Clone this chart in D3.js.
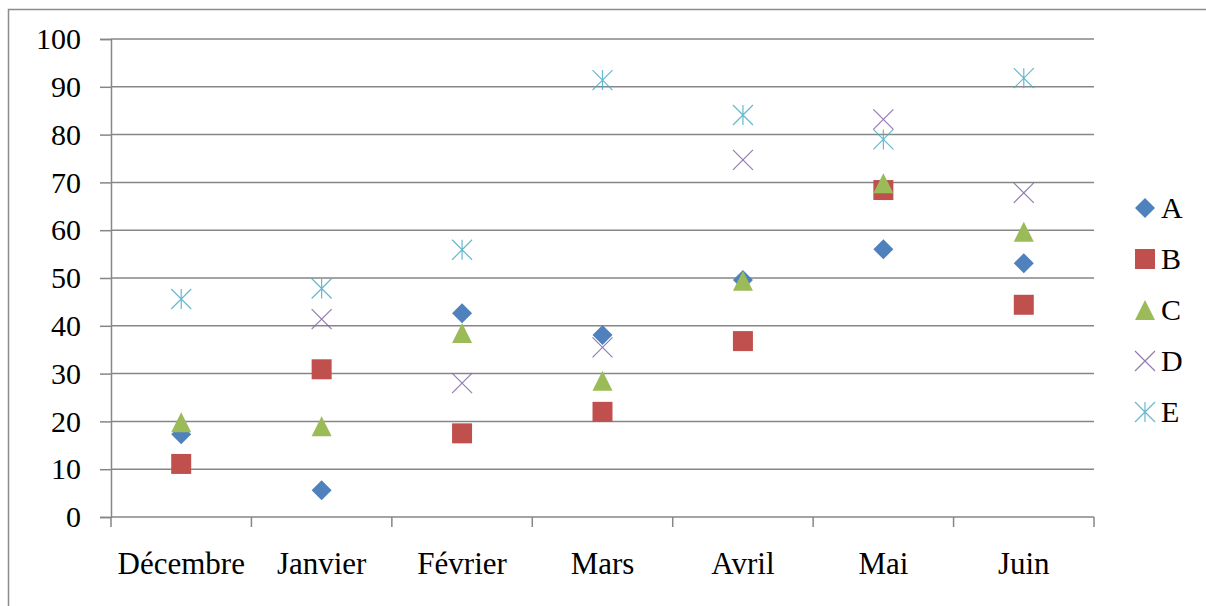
<!DOCTYPE html>
<html lang="fr">
<head>
    <meta charset="UTF-8">
    <title>Graphique</title>
    <style>
        body { margin: 0; background: #fff; }
        text { font-family: "Liberation Serif", "Times New Roman", serif; fill: #000; }
    </style>
</head>
<body>
<svg></svg>
<script src="https://cdn.jsdelivr.net/npm/d3@7/dist/d3.min.js"></script>
<script>
    var months = ["Décembre", "Janvier", "Février", "Mars", "Avril", "Mai", "Juin"];
    var seriesNames = ["A", "B", "C", "D", "E"];
    var valuesA = [17.3, 5.6, 42.6, 38.1, 49.6, 56, 53.1];
    var valuesB = [11.1, 30.9, 17.5, 22, 36.8, 68.4, 44.4];
    var valuesC = [19.8, 19, 38.5, 28.5, 49.4, 69.8, 59.7];
    var valuesD = [null, 41.4, 28, 35.5, 74.7, 83.2, 67.8];
    var valuesE = [45.6, 47.8, 55.9, 91.4, 84.1, 79, 91.8];
    var yTicks = [0, 10, 20, 30, 40, 50, 60, 70, 80, 90, 100];

    var width = 1206;
    var height = 606;
    var margin = {top: 39, right: 112, bottom: 89, left: 111};
    var gridColor = "#868686";

    var colors = ["#4F81BD", "#C0504D", "#9BBB59", "#8064A2", "#4BACC6"];
    var allValues = [valuesA, valuesB, valuesC, valuesD, valuesE];

    var svg = d3.select("svg")
        .attr("width", width)
        .attr("height", height);

    // cadre du graphique
    svg.append("rect")
        .attr("x", 8.5).attr("y", 9.5)
        .attr("width", width + 20).attr("height", height + 20)
        .attr("fill", "none")
        .attr("stroke", "#8c8c8c")
        .attr("stroke-width", 1.5);

    var xScale = d3.scaleBand().domain(months).range([margin.left, width - margin.right]);
    var yScale = d3.scaleLinear().domain([0, 100]).range([height - margin.bottom, margin.top]);

    // lignes de quadrillage
    svg.append("g").selectAll("line")
        .data(yTicks)
        .enter().append("line")
        .attr("x1", margin.left)
        .attr("x2", width - margin.right)
        .attr("y1", function (d) { return yScale(d); })
        .attr("y2", function (d) { return yScale(d); })
        .attr("stroke", gridColor)
        .attr("stroke-width", 1.5);

    // axe vertical
    var yAxis = d3.axisLeft(yScale).tickValues(yTicks).tickSize(11).tickPadding(19);
    var gy = svg.append("g")
        .attr("transform", "translate(" + margin.left + ",0)")
        .call(yAxis);
    gy.select(".domain").attr("stroke", gridColor).attr("stroke-width", 1.5);
    gy.selectAll(".tick line").attr("stroke", gridColor).attr("stroke-width", 1.5);
    gy.selectAll(".tick text")
        .style("font-family", "'Liberation Serif', serif")
        .style("font-size", "30px")
        .attr("fill", "#000");

    // axe horizontal : libellés au centre, graduations entre les catégories
    var xAxis = d3.axisBottom(xScale).tickSize(0);
    var gx = svg.append("g")
        .attr("transform", "translate(0," + yScale(0) + ")")
        .call(xAxis);
    gx.select(".domain").remove();
    gx.selectAll(".tick text")
        .attr("dy", null)
        .attr("y", 57)
        .style("font-family", "'Liberation Serif', serif")
        .style("font-size", "31px")
        .attr("fill", "#000");

    var bounds = months.map(function (m) { return xScale(m); }).concat([xScale.range()[1]]);
    svg.append("g").selectAll("line")
        .data(bounds)
        .enter().append("line")
        .attr("x1", function (d) { return d; })
        .attr("x2", function (d) { return d; })
        .attr("y1", yScale(0))
        .attr("y2", yScale(0) + 10)
        .attr("stroke", gridColor)
        .attr("stroke-width", 1.5);

    // formes des marqueurs (style Excel)
    function markerPath(i) {
        var s = 10;
        var p = d3.path();
        if (i === 0) {
            p.moveTo(0, -s); p.lineTo(s, 0); p.lineTo(0, s); p.lineTo(-s, 0); p.closePath();
        } else if (i === 1) {
            p.rect(-s, -s, 2 * s, 2 * s);
        } else if (i === 2) {
            p.moveTo(0, -s); p.lineTo(s, s); p.lineTo(-s, s); p.closePath();
        } else if (i === 3) {
            p.moveTo(-s, -s); p.lineTo(s, s); p.moveTo(s, -s); p.lineTo(-s, s);
        } else {
            p.moveTo(-s, -s); p.lineTo(s, s); p.moveTo(s, -s); p.lineTo(-s, s);
            p.moveTo(0, -s); p.lineTo(0, s);
        }
        return p.toString();
    }

    function styleMarker(sel, i) {
        if (i < 3) {
            sel.attr("fill", colors[i]).attr("stroke", "none");
        } else {
            sel.attr("fill", "none").attr("stroke", colors[i])
                .attr("stroke-width", 1.2).attr("stroke-opacity", 0.85);
        }
    }

    allValues.forEach(function (vals, i) {
        var pts = months.map(function (m, j) { return {m: m, v: vals[j]}; })
            .filter(function (d) { return d.v !== null; });
        svg.append("g").selectAll("path")
            .data(pts)
            .enter().append("path")
            .attr("d", markerPath(i))
            .attr("transform", function (d) {
                return "translate(" + (xScale(d.m) + xScale.bandwidth() / 2) + "," + yScale(d.v) + ")";
            })
            .call(styleMarker, i);
    });

    // légende
    var legend = svg.append("g").attr("transform", "translate(1145,208)");
    seriesNames.forEach(function (name, i) {
        var item = legend.append("g").attr("transform", "translate(0," + (i * 51) + ")");
        item.append("path").attr("d", markerPath(i)).call(styleMarker, i);
        item.append("text")
            .attr("x", 16)
            .attr("y", 10)
            .style("font-size", "30px")
            .text(name);
    });
</script>
</body>
</html>
